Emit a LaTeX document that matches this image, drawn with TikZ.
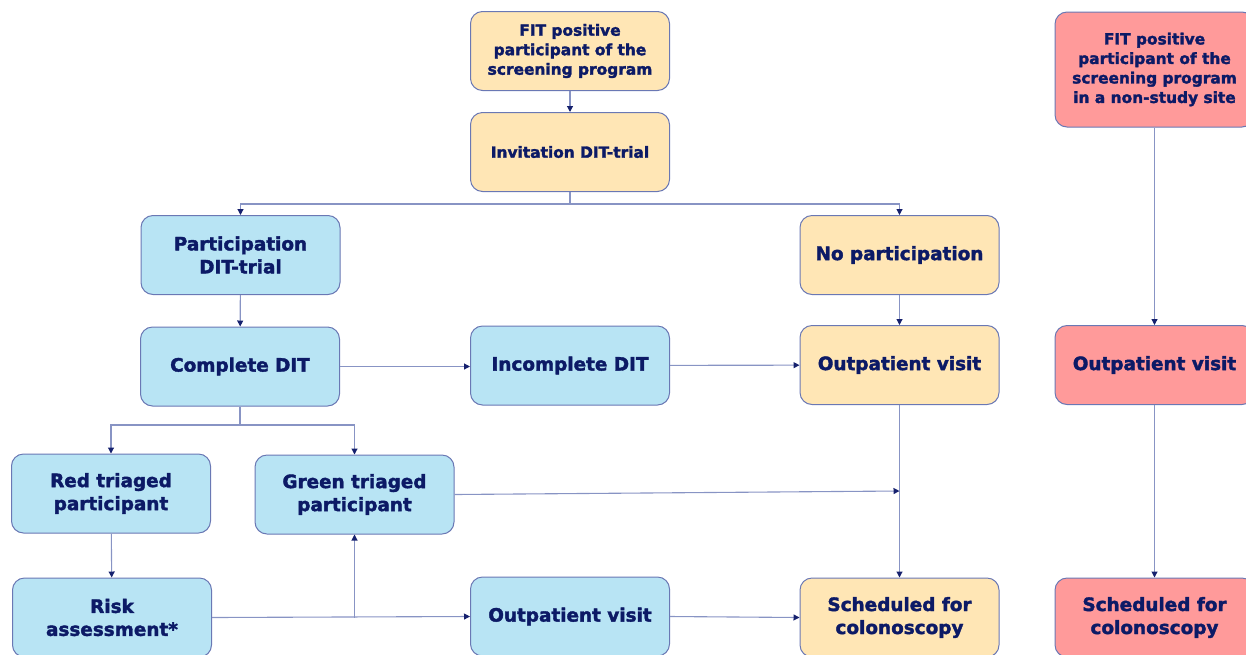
\documentclass[tikz,border=0pt]{standalone}
\usepackage{fontspec}
\setmainfont{DejaVu Sans}[BoldFeatures={FakeBold=2}]
\usetikzlibrary{arrows.meta}
\definecolor{boxyellow}{HTML}{FFE6B5}
\definecolor{boxblue}{HTML}{B8E4F4}
\definecolor{boxred}{HTML}{FF9A9A}
\definecolor{boxedge}{HTML}{6A78B4}
\definecolor{linecol}{HTML}{8894C4}
\definecolor{tipcol}{HTML}{16216E}
\definecolor{textcol}{HTML}{0C1A66}
\tikzset{
  box/.style={draw=boxedge, line width=1pt, rounded corners=12pt, minimum width=199pt, minimum height=79pt,
    inner sep=0pt, align=center, text=textcol, font=\fontsize{18.4}{23}\selectfont\bfseries},
  smalltxt/.style={font=\fontsize{15.4}{19.5}\selectfont\bfseries},
  ybox/.style={box, fill=boxyellow},
  bbox/.style={box, fill=boxblue},
  rbox/.style={box, fill=boxred},
  arr/.style={draw=linecol, line width=1.1pt, -{Triangle[width=6pt,length=6pt,color=tipcol]}},
  ln/.style={draw=linecol, line width=1.1pt}
}
\begin{document}
\begin{tikzpicture}[x=1pt,y=-1pt]
\useasboundingbox (0,0) rectangle (1246,654);
\clip (0,0) rectangle (1246,654);
% nodes
\node[ybox, smalltxt] (fit) at (570,51) {FIT positive\\participant of the\\screening program};
\node[ybox, smalltxt] (inv) at (570,152) {Invitation DIT-trial};
\node[bbox] (part) at (240.5,255) {Participation\\DIT-trial};
\node[ybox] (nopart) at (899.5,255) {No participation};
\node[bbox] (comp) at (240,366.5) {Complete DIT};
\node[bbox] (incomp) at (570,365.5) {Incomplete DIT};
\node[ybox] (outy) at (899.5,365) {Outpatient visit};
\node[bbox] (red) at (111,493.5) {Red triaged\\participant};
\node[bbox] (green) at (354.5,494.5) {Green triaged\\participant};
\node[bbox] (risk) at (112,617.5) {Risk\\assessment*};
\node[bbox] (outb) at (570,616.5) {Outpatient visit};
\node[ybox] (schy) at (899.5,617.5) {Scheduled for\\colonoscopy};
\node[rbox, smalltxt, minimum height=115pt] (fitr) at (1154.5,69.5) {FIT positive\\participant of the\\screening program\\in a non-study site};
\node[rbox] (outr) at (1154.5,365) {Outpatient visit};
\node[rbox] (schr) at (1154.5,617.5) {Scheduled for\\colonoscopy};
% junction coordinates
\coordinate (ib) at (570,204);
\coordinate (cb) at (240,425);
\coordinate (gx) at (899.5,491);
\coordinate (rj) at (354.5,617.5);
% connectors
\draw[arr] (fit) -- (inv);
\draw[ln] (inv.south) -- (ib);
\draw[arr] (ib) -| (part.north);
\draw[arr] (ib) -| (nopart.north);
\draw[arr] (part) -- (comp);
\draw[arr] (comp.east) -- (incomp.west |- comp.east);
\draw[arr] (incomp) -- (outy);
\draw[arr] (nopart) -- (outy);
\draw[arr] (outy) -- (schy);
\draw[ln] (comp.south) -- (cb);
\draw[arr] (cb) -| (red.north);
\draw[arr] (cb) -| (green.north);
\draw[arr] (green.east) -- (gx);
\draw[arr] (red) -- (risk);
\draw[arr] (risk.east) -- (outb.west);
\draw[arr] (rj) -- (green.south);
\draw[arr] (outb.east) -- (schy.west);
\draw[arr] (fitr) -- (outr);
\draw[arr] (outr) -- (schr);
\end{tikzpicture}
\end{document}
